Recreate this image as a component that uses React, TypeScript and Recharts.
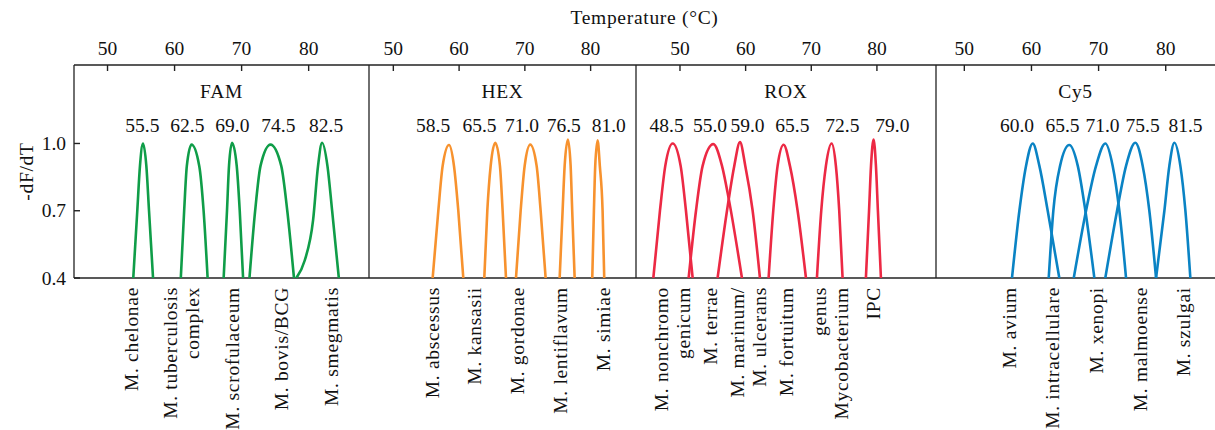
import React from 'react'
import { LineChart, Line, XAxis, YAxis, ReferenceDot, ReferenceLine } from 'recharts'

const FONT = '"Liberation Serif", "Times New Roman", serif'
const FS = 19.5
const LS = 0.7
const INK = '#111'
const AXIS = '#222'
const PLOT_TOP = 65
const PLOT_BOTTOM = 278
const H = 430
const TICK_LEN = 6

const tempTicks = [50, 60, 70, 80]
const yTicks = [0.4, 0.7, 1.0]
const yDomain = [0.4, 1.35]

// FAM
const famTm = [55.5, 62.5, 69.0, 74.5, 82.5]
const famTmAt = [55.2, 61.91, 68.63, 75.49, 82.6]
const famSpecies = [['M. chelonae'], ['M. tuberculosis', 'complex'], ['M. scrofulaceum'], ['M. bovis/BCG'], ['M. smegmatis']]
const famSpeciesAt = [53.54, 60.96, 68.61, 75.93, 83.39]
const famCurves = [
  [[53.84, 0.4], [54.44, 0.7], [54.84, 0.9], [55.29, 1.0], [55.79, 0.9], [56.19, 0.7], [56.79, 0.4]],
  [[60.93, 0.4], [61.43, 0.7], [61.83, 0.9], [62.53, 0.995], [63.68, 0.9], [64.33, 0.7], [64.93, 0.4]],
  [[67.32, 0.4], [67.82, 0.7], [68.12, 0.9], [68.57, 1.003], [69.27, 0.9], [69.72, 0.7], [70.22, 0.4]],
  [[71.17, 0.4], [72.02, 0.7], [72.82, 0.9], [74.31, 0.995], [75.91, 0.9], [76.81, 0.7], [77.81, 0.4]],
  [[78.16, 0.4], [79.41, 0.478], [80.66, 0.658], [81.4, 0.9], [82.0, 1.003], [82.8, 0.9], [83.5, 0.7], [84.5, 0.4]],
]

// HEX
const hexTm = [58.5, 65.5, 71.0, 76.5, 81.0]
const hexTmAt = [56.05, 63.1, 69.56, 75.91, 82.75]
const hexSpecies = [['M. abscessus'], ['M. kansasii'], ['M. gordonae'], ['M. lentiflavum'], ['M. simiae']]
const hexSpeciesAt = [55.84, 62.26, 68.86, 75.44, 81.93]
const hexCurves = [
  [[55.98, 0.4], [56.84, 0.7], [57.5, 0.9], [58.47, 0.993], [59.22, 0.9], [59.88, 0.7], [60.64, 0.4]],
  [[63.83, 0.4], [64.29, 0.7], [64.8, 0.9], [65.5, 1.003], [66.21, 0.9], [66.62, 0.7], [67.13, 0.4]],
  [[68.65, 0.4], [69.36, 0.7], [69.97, 0.9], [70.82, 0.995], [71.79, 0.9], [72.4, 0.7], [73.16, 0.4]],
  [[75.29, 0.4], [75.74, 0.7], [76.05, 0.9], [76.55, 1.018], [76.96, 0.9], [77.2, 0.7], [77.57, 0.4]],
  [[80.25, 0.4], [80.5, 0.7], [80.7, 0.9], [81.06, 1.014], [81.4, 0.9], [81.82, 0.7], [82.07, 0.4]],
]

// ROX
const roxTm = [48.5, 55.0, 59.0, 65.5, 72.5, 79.0]
const roxTmAt = [47.97, 54.57, 60.28, 67.13, 74.74, 82.36]
const roxSpecies = [['M. nonchromo', 'genicum'], ['M. terrae'], ['M. marinum/', 'M. ulcerans'], ['M. fortuitum'], ['genus', 'Mycobacterium'], ['IPC']]
const roxSpeciesAt = [48.77, 54.67, 60.42, 66.25, 72.95, 79.45]
const roxCurves = [
  [[45.94, 0.4], [46.95, 0.7], [47.76, 0.9], [48.89, 1.0], [50.1, 0.9], [50.91, 0.7], [51.93, 0.4]],
  [[51.32, 0.4], [52.44, 0.7], [53.45, 0.9], [55.08, 0.997], [56.4, 0.9], [57.42, 0.754], [59.44, 0.4]],
  [[55.73, 0.4], [57.16, 0.7], [58.27, 0.9], [59.14, 1.006], [59.95, 0.9], [61.07, 0.7], [62.18, 0.4]],
  [[63.5, 0.4], [64.21, 0.7], [64.87, 0.9], [65.79, 0.994], [66.75, 0.9], [67.92, 0.7], [69.19, 0.4]],
  [[70.86, 0.4], [71.52, 0.7], [72.23, 0.9], [73.1, 1.0], [73.75, 0.9], [74.26, 0.7], [74.77, 0.4]],
  [[78.32, 0.4], [78.8, 0.7], [79.1, 0.9], [79.49, 1.018], [79.85, 0.9], [80.15, 0.7], [80.61, 0.4]],
]

// Cy5
const cy5Tm = [60.0, 65.5, 71.0, 75.5, 81.5]
const cy5TmAt = [57.85, 64.63, 70.59, 76.55, 82.95]
const cy5Species = [['M. avium'], ['M. intracellulare'], ['M. xenopi'], ['M. malmoense'], ['M. szulgai']]
const cy5SpeciesAt = [56.66, 63.02, 69.62, 76.17, 82.64]
const cy5Curves = [
  [[57.1, 0.4], [58.2, 0.7], [59.19, 0.9], [60.19, 1.0], [61.18, 0.9], [62.42, 0.7], [64.15, 0.4]],
  [[62.57, 0.4], [63.26, 0.7], [64.26, 0.9], [65.64, 0.993], [66.9, 0.9], [68.03, 0.7], [69.37, 0.4]],
  [[66.3, 0.4], [68.13, 0.7], [69.62, 0.9], [71.0, 1.0], [72.1, 0.9], [73.09, 0.7], [74.09, 0.4]],
  [[71.0, 0.4], [72.75, 0.7], [74.09, 0.9], [75.47, 1.003], [76.57, 0.9], [77.56, 0.7], [78.56, 0.4]],
  [[78.56, 0.4], [79.8, 0.7], [80.54, 0.9], [81.29, 1.003], [82.18, 0.9], [82.93, 0.7], [83.67, 0.4]],
]

const panels = [
  { name: 'FAM', color: '#0f9d48', domain: [45, 89], tm: famTm, tmAt: famTmAt, species: famSpecies, speciesAt: famSpeciesAt, curves: famCurves, left: 0, width: 389, ml: 0, mr: 20, yAxis: true },
  { name: 'HEX', color: '#f7922e', domain: [46.3, 86.9], tm: hexTm, tmAt: hexTmAt, species: hexSpecies, speciesAt: hexSpeciesAt, curves: hexCurves, left: 359, width: 297, ml: 10, mr: 20, yAxis: false },
  { name: 'ROX', color: '#ec2944', domain: [43.3, 89.0], tm: roxTm, tmAt: roxTmAt, species: roxSpecies, speciesAt: roxSpeciesAt, curves: roxCurves, left: 626, width: 330, ml: 10, mr: 20, yAxis: false },
  { name: 'Cy5', color: '#0a83c4', domain: [45.78, 87.34], tm: cy5Tm, tmAt: cy5TmAt, species: cy5Species, speciesAt: cy5SpeciesAt, curves: cy5Curves, left: 926, width: 289, ml: 10, mr: 0, yAxis: false },
]

const numStyle = { fill: INK, fontSize: FS, fontFamily: FONT }
const wordStyle = { ...numStyle, letterSpacing: LS }

const TempTick = (props: any) => {
  const { x, y, payload } = props
  return (
    <text x={x} y={y} textAnchor="middle" {...numStyle}>
      {payload.value}
    </text>
  )
}

const ValueTick = (props: any) => {
  const { x, y, payload } = props
  return (
    <text x={x} y={y} textAnchor="end" dominantBaseline="central" {...numStyle}>
      {Number(payload.value).toFixed(1)}
    </text>
  )
}

const SpeciesTick = (props: any) => {
  const { x, y, payload, at, rows } = props
  const i = at.indexOf(payload.value)
  const lines: string[] = rows[i] || []
  const n = lines.length
  const L = 22
  return (
    <text transform={`rotate(-90 ${x} ${y})`} textAnchor="end" {...wordStyle}>
      {lines.map((s, k) => (
        <tspan key={k} x={x} y={y + (k - (n - 1) / 2) * L} dy="0.35em">
          {s}
        </tspan>
      ))}
    </text>
  )
}

const YLabel = () => {
  const cx = 26
  const cy = (PLOT_TOP + PLOT_BOTTOM) / 2
  return (
    <text x={cx} y={cy} transform={`rotate(-90 ${cx} ${cy})`} textAnchor="middle" dominantBaseline="central" {...wordStyle}>
      -dF/dT
    </text>
  )
}

function Panel({ p }: { p: any }) {
  const series = p.curves.map((c: number[][]) => c.map(([t, v]) => ({ t, v })))
  const frame = { stroke: AXIS, strokeWidth: 1.3, ifOverflow: 'visible' as const }
  // inward tick length on the temperature axis, in data units
  const dy = (TICK_LEN * (yDomain[1] - yDomain[0])) / (PLOT_BOTTOM - PLOT_TOP)
  return (
    <div style={{ position: 'absolute', left: p.left, top: 0 }}>
      <LineChart width={p.width} height={H} margin={{ top: PLOT_TOP - 30, right: p.mr, bottom: H - PLOT_BOTTOM - 140, left: p.ml }}>
        <XAxis
          xAxisId="top"
          orientation="top"
          type="number"
          dataKey="t"
          domain={p.domain}
          allowDataOverflow
          ticks={tempTicks}
          interval={0}
          height={30}
          tickSize={0}
          tickMargin={10}
          tickLine={false}
          axisLine={false}
          tick={(tp: any) => <TempTick {...tp} />}
        />
        <XAxis
          xAxisId="species"
          orientation="bottom"
          type="number"
          dataKey="t"
          domain={p.domain}
          allowDataOverflow
          ticks={p.speciesAt}
          interval={0}
          height={140}
          tickSize={0}
          tickMargin={9}
          tickLine={false}
          axisLine={false}
          tick={(tp: any) => <SpeciesTick {...tp} at={p.speciesAt} rows={p.species} />}
        />
        <YAxis
          type="number"
          domain={yDomain}
          allowDataOverflow
          ticks={yTicks}
          interval={0}
          width={p.yAxis ? 74 : 0}
          tickSize={0}
          tickMargin={8}
          tickLine={false}
          axisLine={false}
          tick={p.yAxis ? (tp: any) => <ValueTick {...tp} /> : false}
          label={p.yAxis ? <YLabel /> : undefined}
        />
        <ReferenceLine
          xAxisId="top"
          y={yDomain[1]}
          {...frame}
          label={{ value: p.name, position: 'bottom', offset: 19, ...wordStyle }}
        />
        <ReferenceLine xAxisId="top" y={yDomain[0]} {...frame} />
        <ReferenceLine xAxisId="top" x={p.domain[0]} {...frame} />
        {tempTicks.map((t) => (
          <ReferenceLine
            key={'tt' + t}
            xAxisId="top"
            segment={[{ x: t, y: yDomain[1] }, { x: t, y: yDomain[1] - dy }]}
            stroke={AXIS}
            strokeWidth={1.4}
            ifOverflow="visible"
          />
        ))}
        {p.yAxis &&
          yTicks.map((v) => (
            <ReferenceLine
              key={'yt' + v}
              xAxisId="top"
              y={v}
              stroke={AXIS}
              strokeWidth={1.4}
              strokeDasharray="6 3000"
              ifOverflow="visible"
            />
          ))}
        {p.tm.map((tm: number, i: number) => (
          <ReferenceDot
            key={'tm' + i}
            xAxisId="top"
            x={p.tmAt[i]}
            y={1.0}
            r={0}
            fill="none"
            stroke="none"
            label={{ value: tm.toFixed(1), position: 'top', offset: 11, ...numStyle }}
          />
        ))}
        {series.map((d: any[], i: number) => (
          <Line
            key={i}
            xAxisId="top"
            data={d}
            dataKey="v"
            type="monotone"
            stroke={p.color}
            strokeWidth={2.6}
            dot={false}
            activeDot={false}
            isAnimationActive={false}
          />
        ))}
      </LineChart>
    </div>
  )
}

export default function App() {
  return (
    <div style={{ position: 'absolute', left: 0, top: 0, width: 1215, height: H, background: '#fff', fontFamily: FONT }}>
      <div style={{ position: 'absolute', left: 74, top: 8, width: 1141, textAlign: 'center', fontSize: FS, lineHeight: '19px', letterSpacing: LS, color: INK }}>
        Temperature (°C)
      </div>
      {panels.map((p) => (
        <Panel key={p.name} p={p} />
      ))}
    </div>
  )
}
